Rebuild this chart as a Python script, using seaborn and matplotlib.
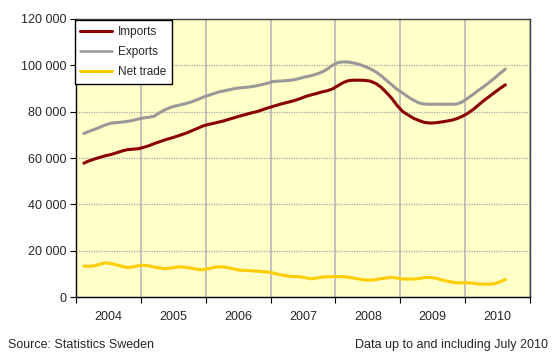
import pandas as pd
import numpy as np
import matplotlib
matplotlib.use("Agg")
import matplotlib.pyplot as plt
import matplotlib.dates as mdates
import matplotlib.ticker as mticker
import seaborn as sns

# Monthly values (SEK million), Jan 2004 - Jul 2010
imports = [57.8, 58.8, 59.6, 60.3, 61.0, 61.5, 62.2, 63.0, 63.6, 63.8, 64.0, 64.6,
           65.3, 66.2, 67.0, 67.8, 68.5, 69.2, 70.0, 70.8, 71.8, 72.8, 73.8, 74.5,
           75.0, 75.5, 76.1, 76.8, 77.5, 78.2, 78.8, 79.5, 80.0, 80.8, 81.6, 82.3,
           83.0, 83.6, 84.2, 84.8, 85.6, 86.5, 87.2, 87.8, 88.5, 89.0, 89.8, 91.2,
           92.6, 93.4, 93.6, 93.6, 93.5, 93.2, 92.2, 90.5, 88.2, 85.6, 82.5, 80.0,
           78.5, 77.2, 76.2, 75.4, 75.1, 75.2, 75.5, 75.9, 76.3, 77.0, 78.0, 79.3,
           81.0, 82.8, 84.8, 86.5, 88.3, 90.0, 91.6]
exports = [70.6, 71.5, 72.4, 73.3, 74.3, 75.0, 75.3, 75.5, 75.8, 76.2, 76.8, 77.3,
           77.6, 78.0, 79.5, 80.8, 81.8, 82.5, 83.0, 83.6, 84.3, 85.2, 86.2, 87.0,
           87.8, 88.5, 89.0, 89.5, 90.0, 90.3, 90.5, 90.8, 91.2, 91.7, 92.3, 93.0,
           93.2, 93.3, 93.5, 93.8, 94.4, 95.0, 95.5, 96.2, 97.0, 98.3, 100.0, 101.2,
           101.5, 101.4, 101.0, 100.4, 99.5, 98.5, 97.2, 95.5, 93.5, 91.5, 89.5, 88.0,
           86.3, 85.0, 83.8, 83.3, 83.2, 83.2, 83.2, 83.2, 83.2, 83.3, 84.2, 85.8,
           87.5, 89.2, 90.8, 92.6, 94.5, 96.5, 98.4]
net_trade = [13.4, 13.3, 13.5, 14.2, 14.8, 14.5, 14.0, 13.3, 12.8, 13.0, 13.5, 13.8,
             13.5, 13.0, 12.6, 12.3, 12.5, 12.9, 13.1, 12.8, 12.4, 12.0, 11.8, 12.3,
             12.8, 13.1, 13.0, 12.6, 12.0, 11.6, 11.5, 11.4, 11.2, 11.0, 10.9, 10.4,
             9.8, 9.4, 9.0, 8.9, 8.8, 8.4, 7.9, 8.2, 8.6, 8.8, 8.8, 8.9,
             8.8, 8.6, 8.2, 7.8, 7.4, 7.3, 7.6, 8.0, 8.3, 8.5, 8.2, 7.8,
             7.8, 7.8, 8.0, 8.4, 8.5, 8.2, 7.6, 7.0, 6.5, 6.2, 6.2, 6.2,
             6.0, 5.7, 5.6, 5.6, 5.8, 6.6, 7.6]
years = ["2004", "2005", "2006", "2007", "2008", "2009", "2010"]

dates = pd.date_range("2004-01-15", periods=len(imports), freq="MS") + pd.Timedelta(days=14)
df = pd.DataFrame({
    "date": np.concatenate([dates] * 3),
    "value": np.array(imports + exports + net_trade) * 1000,
    "series": ["Imports"] * len(imports) + ["Exports"] * len(exports) + ["Net trade"] * len(net_trade),
})

sns.set_style("white")
plt.rcParams["font.family"] = ["Liberation Sans", "DejaVu Sans"]

fig = plt.figure(figsize=(5.58, 3.58), dpi=100)
ax = fig.add_axes([0.136, 0.170, 0.814, 0.777])
ax.set_facecolor("#FFFFC8")

palette = {"Imports": "#8B0000", "Exports": "#999999", "Net trade": "#FFCC00"}
sns.lineplot(data=df, x="date", y="value", hue="series", palette=palette,
             ax=ax, linewidth=2.2)
for line in ax.lines:
    if line.get_label() == "Exports":
        line.set_linewidth(1.8)

ax.set_xlim(pd.Timestamp("2004-01-01"), pd.Timestamp("2011-01-01"))
ax.set_ylim(0, 120000)
ax.yaxis.set_major_locator(mticker.MultipleLocator(20000))
ax.yaxis.set_major_formatter(mticker.FuncFormatter(lambda v, p: f"{int(v):,}".replace(",", " ")))

ax.xaxis.set_major_locator(mdates.YearLocator())
ax.xaxis.set_major_formatter(mticker.NullFormatter())
ax.xaxis.set_minor_locator(mticker.FixedLocator(
    [mdates.date2num(pd.Timestamp(f"{y}-07-02")) for y in years]))
ax.xaxis.set_minor_formatter(mticker.FixedFormatter(years))
ax.tick_params(axis="x", which="major", length=4, color="black", direction="out", bottom=True)
ax.tick_params(axis="x", which="minor", length=0, labelsize=9, pad=10)
ax.tick_params(axis="y", length=4, color="black", direction="out", left=True, labelsize=9, pad=3)

ax.grid(axis="x", which="major", color="#B8B8B8", linewidth=1.2, linestyle="-")
ax.grid(axis="y", color="#A8A8A8", linewidth=0.9, linestyle=(0, (1, 1)))
ax.set_axisbelow(True)

for s in ax.spines.values():
    s.set_color("#404040")
    s.set_linewidth(1.0)
ax.spines["left"].set_color("black")
ax.spines["bottom"].set_color("black")

ax.set_xlabel("")
ax.set_ylabel("")

leg = ax.legend(loc="upper left", bbox_to_anchor=(-0.003, 0.997), borderaxespad=0,
                frameon=True, fancybox=False, fontsize=8.5, handlelength=2.7,
                handletextpad=0.5, labelspacing=0.7, borderpad=0.5)
leg.get_frame().set_edgecolor("black")
leg.get_frame().set_linewidth(1.0)
leg.get_frame().set_facecolor("white")
leg.get_frame().set_alpha(1)

fig.text(8 / 558, 1 - 345 / 358, "Source: Statistics Sweden", fontsize=9, va="center", ha="left")
fig.text(548 / 558, 1 - 345 / 358, "Data up to and including July 2010", fontsize=9, va="center", ha="right")

fig.savefig("out.png", dpi=100)
